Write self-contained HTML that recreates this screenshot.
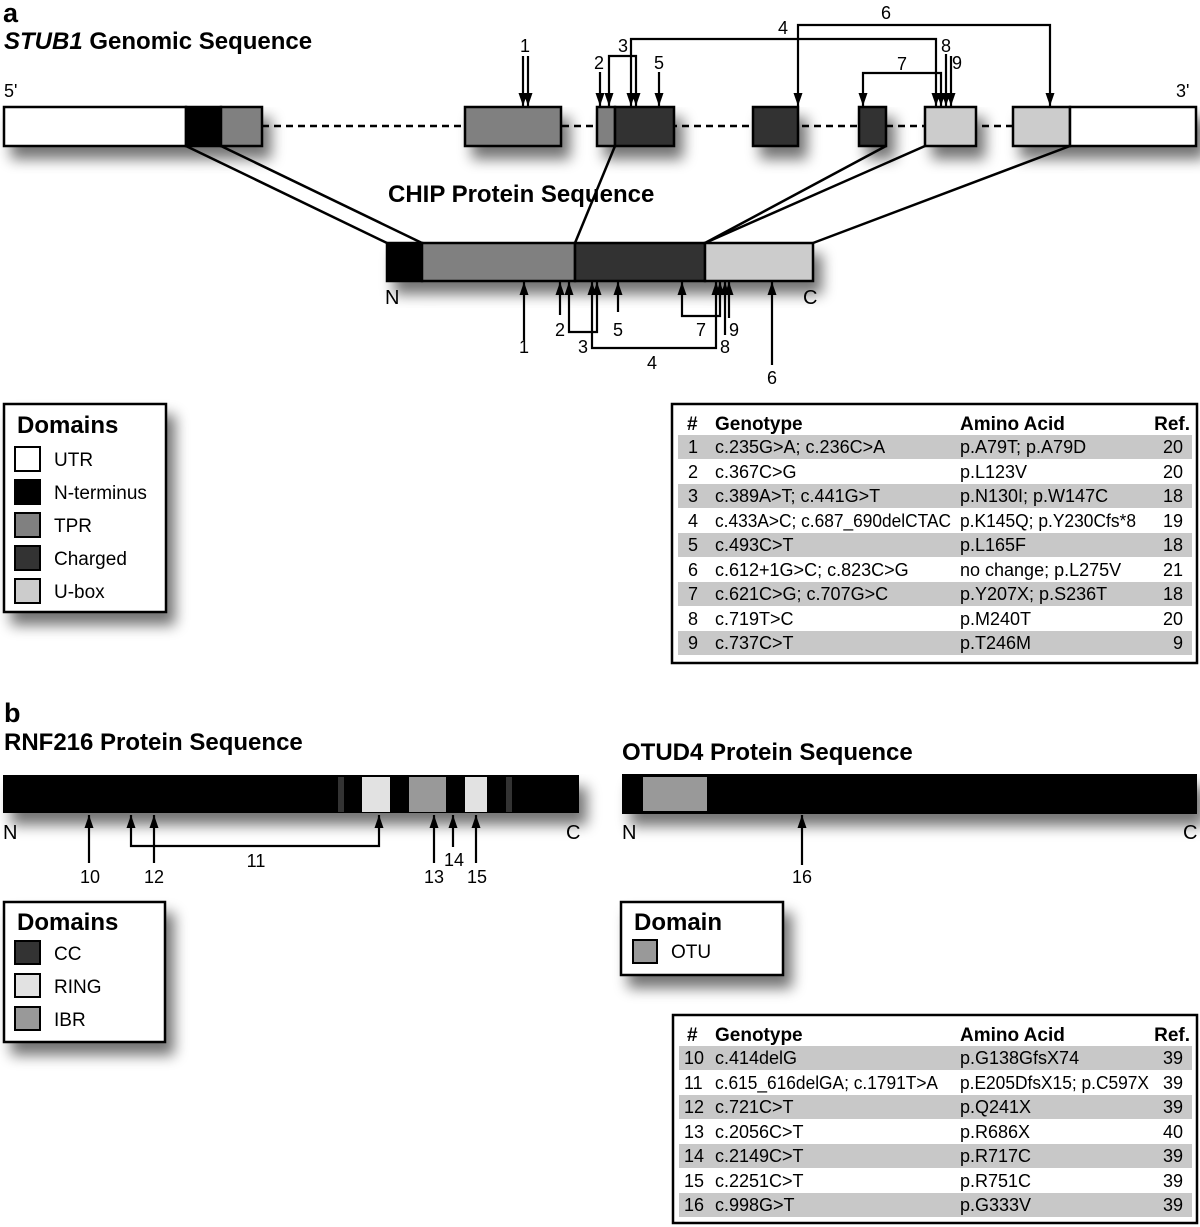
<!DOCTYPE html>
<html><head><meta charset="utf-8"><style>
html,body{margin:0;padding:0;background:#fff;}
svg{display:block;font-family:"Liberation Sans",Arial,sans-serif;}
.t{font-size:18px;}
.b{font-weight:bold;}
</style></head><body>
<svg width="1200" height="1227" viewBox="0 0 1200 1227" xmlns="http://www.w3.org/2000/svg">
<defs>
<filter id="sh" x="-10%" y="-30%" width="130%" height="200%">
<feGaussianBlur in="SourceAlpha" stdDeviation="7"/>
<feOffset dx="8" dy="12" result="o"/>
<feComponentTransfer><feFuncA type="linear" slope="0.55"/></feComponentTransfer>
<feMerge><feMergeNode/><feMergeNode in="SourceGraphic"/></feMerge>
</filter>
<marker id="ah" markerWidth="13" markerHeight="9" refX="13" refY="4.5" orient="auto-start-reverse" markerUnits="userSpaceOnUse" viewBox="0 0 13 9">
<path d="M0,0 L13,4.5 L0,9 z" fill="#000"/>
</marker>
</defs>

<!-- Panel a titles -->
<text x="3" y="22" class="b" font-size="27">a</text>
<text x="4" y="49" class="b" font-size="24"><tspan font-style="italic">STUB1</tspan> Genomic Sequence</text>
<text x="4" y="97" font-size="18">5'</text>
<text x="1176" y="97" font-size="18">3'</text>

<line x1="262" y1="126" x2="1013" y2="126" stroke="#000" stroke-width="2.5" stroke-dasharray="7,5"/>

<g filter="url(#sh)" stroke="#000" stroke-width="2.5">
<rect x="4" y="107" width="182" height="39" fill="#fff"/>
<rect x="186" y="107" width="35" height="39" fill="#000"/>
<rect x="221" y="107" width="41" height="39" fill="#808080"/>
<rect x="465" y="107" width="96" height="39" fill="#808080"/>
<rect x="597" y="107" width="18" height="39" fill="#808080"/>
<rect x="615" y="107" width="59" height="39" fill="#333"/>
<rect x="753" y="107" width="45" height="39" fill="#333"/>
<rect x="859" y="107" width="27" height="39" fill="#333"/>
<rect x="925" y="107" width="51" height="39" fill="#ccc"/>
<rect x="1013" y="107" width="57" height="39" fill="#ccc"/>
<rect x="1070" y="107" width="126" height="39" fill="#fff"/>
</g>

<g stroke="#000" stroke-width="2.5" fill="none">
<line x1="186" y1="146" x2="387" y2="243"/>
<line x1="221" y1="146" x2="422" y2="243"/>
<line x1="615" y1="146" x2="575" y2="243"/>
<line x1="886" y1="146" x2="705" y2="243"/>
<line x1="925" y1="146" x2="705" y2="243"/>
<line x1="1070" y1="146" x2="813" y2="243"/>
</g>
<text x="388" y="202" class="b" font-size="24">CHIP Protein Sequence</text>

<g filter="url(#sh)" stroke="#000" stroke-width="2.5">
<rect x="387" y="243" width="35" height="38" fill="#000"/>
<rect x="422" y="243" width="153" height="38" fill="#808080"/>
<rect x="575" y="243" width="130" height="38" fill="#333"/>
<rect x="705" y="243" width="108" height="38" fill="#ccc"/>
</g>
<text x="385" y="304" font-size="20">N</text>
<text x="803" y="304" font-size="20">C</text>

<g stroke="#000" stroke-width="2.2" fill="none">
<line x1="523" y1="56" x2="523" y2="106" marker-end="url(#ah)"/>
<line x1="528" y1="56" x2="528" y2="106" marker-end="url(#ah)"/>
<line x1="600" y1="72" x2="600" y2="106" marker-end="url(#ah)"/>
<polyline points="609,106 609,56 636,56 636,106" marker-start="url(#ah)" marker-end="url(#ah)"/>
<polyline points="631,106 631,39 936,39 936,106" marker-start="url(#ah)" marker-end="url(#ah)"/>
<line x1="659" y1="72" x2="659" y2="106" marker-end="url(#ah)"/>
<polyline points="798,106 798,25 1050,25 1050,106" marker-start="url(#ah)" marker-end="url(#ah)"/>
<polyline points="863,106 863,73 941,73 941,106" marker-start="url(#ah)" marker-end="url(#ah)"/>
<line x1="946" y1="54" x2="946" y2="106" marker-end="url(#ah)"/>
<line x1="951" y1="56" x2="951" y2="106" marker-end="url(#ah)"/>
</g>
<g class="t" text-anchor="middle">
<text x="525" y="52">1</text>
<text x="599" y="69">2</text>
<text x="623" y="52">3</text>
<text x="783" y="34">4</text>
<text x="659" y="69">5</text>
<text x="886" y="19">6</text>
<text x="902" y="70">7</text>
<text x="946" y="52">8</text>
<text x="957" y="69">9</text>
</g>

<g stroke="#000" stroke-width="2.2" fill="none">
<line x1="524" y1="340" x2="524" y2="282" marker-end="url(#ah)"/>
<line x1="560" y1="315" x2="560" y2="282" marker-end="url(#ah)"/>
<polyline points="569,282 569,332 597,332 597,282" marker-start="url(#ah)" marker-end="url(#ah)"/>
<polyline points="592,282 592,348 716,348 716,282" marker-start="url(#ah)" marker-end="url(#ah)"/>
<line x1="618" y1="312" x2="618" y2="282" marker-end="url(#ah)"/>
<polyline points="682,282 682,316 720,316 720,282" marker-start="url(#ah)" marker-end="url(#ah)"/>
<line x1="725" y1="335" x2="725" y2="282" marker-end="url(#ah)"/>
<line x1="729" y1="318" x2="729" y2="282" marker-end="url(#ah)"/>
<line x1="772" y1="365" x2="772" y2="282" marker-end="url(#ah)"/>
</g>
<g class="t" text-anchor="middle">
<text x="524" y="353">1</text>
<text x="560" y="336">2</text>
<text x="583" y="353">3</text>
<text x="652" y="369">4</text>
<text x="618" y="336">5</text>
<text x="772" y="384">6</text>
<text x="701" y="336">7</text>
<text x="725" y="353">8</text>
<text x="734" y="336">9</text>
</g>

<g filter="url(#sh)"><rect x="4" y="404" width="162" height="208" fill="#fff" stroke="#000" stroke-width="2.5"/></g>
<text x="17" y="433" class="b" font-size="24">Domains</text>
<g stroke="#000" stroke-width="2">
<rect x="15" y="447" width="25" height="24" fill="#fff"/>
<rect x="15" y="480" width="25" height="24" fill="#000"/>
<rect x="15" y="513" width="25" height="24" fill="#808080"/>
<rect x="15" y="546" width="25" height="24" fill="#333"/>
<rect x="15" y="579" width="25" height="24" fill="#ccc"/>
</g>
<g font-size="19">
<text x="54" y="466">UTR</text>
<text x="54" y="499">N-terminus</text>
<text x="54" y="532">TPR</text>
<text x="54" y="565">Charged</text>
<text x="54" y="598">U-box</text>
</g>

<rect x="672" y="404" width="525" height="259" fill="#fff" stroke="#000" stroke-width="2.5"/>
<g fill="#c8c8c8">
<rect x="678" y="435" width="514" height="24"/>
<rect x="678" y="484" width="514" height="24"/>
<rect x="678" y="533" width="514" height="24"/>
<rect x="678" y="582" width="514" height="24"/>
<rect x="678" y="631" width="514" height="24"/>
</g>
<g class="b" font-size="19">
<text x="687" y="430">#</text>
<text x="715" y="430">Genotype</text>
<text x="960" y="430">Amino Acid</text>
<text x="1190" y="430" text-anchor="end">Ref.</text>
</g>
<g font-size="18">
<text x="693" y="453" text-anchor="middle">1</text><text x="715" y="453">c.235G&gt;A; c.236C&gt;A</text><text x="960" y="453">p.A79T; p.A79D</text><text x="1183" y="453" text-anchor="end">20</text>
<text x="693" y="478" text-anchor="middle">2</text><text x="715" y="478">c.367C&gt;G</text><text x="960" y="478">p.L123V</text><text x="1183" y="478" text-anchor="end">20</text>
<text x="693" y="502" text-anchor="middle">3</text><text x="715" y="502">c.389A&gt;T; c.441G&gt;T</text><text x="960" y="502">p.N130I; p.W147C</text><text x="1183" y="502" text-anchor="end">18</text>
<text x="693" y="527" text-anchor="middle">4</text><text x="715" y="527" textLength="236" lengthAdjust="spacingAndGlyphs">c.433A&gt;C; c.687_690delCTAC</text><text x="960" y="527" textLength="176" lengthAdjust="spacingAndGlyphs">p.K145Q; p.Y230Cfs*8</text><text x="1183" y="527" text-anchor="end">19</text>
<text x="693" y="551" text-anchor="middle">5</text><text x="715" y="551">c.493C&gt;T</text><text x="960" y="551">p.L165F</text><text x="1183" y="551" text-anchor="end">18</text>
<text x="693" y="576" text-anchor="middle">6</text><text x="715" y="576">c.612+1G&gt;C; c.823C&gt;G</text><text x="960" y="576">no change; p.L275V</text><text x="1183" y="576" text-anchor="end">21</text>
<text x="693" y="600" text-anchor="middle">7</text><text x="715" y="600">c.621C&gt;G; c.707G&gt;C</text><text x="960" y="600">p.Y207X; p.S236T</text><text x="1183" y="600" text-anchor="end">18</text>
<text x="693" y="625" text-anchor="middle">8</text><text x="715" y="625">c.719T&gt;C</text><text x="960" y="625">p.M240T</text><text x="1183" y="625" text-anchor="end">20</text>
<text x="693" y="649" text-anchor="middle">9</text><text x="715" y="649">c.737C&gt;T</text><text x="960" y="649">p.T246M</text><text x="1183" y="649" text-anchor="end">9</text>
</g>

<text x="4" y="722" class="b" font-size="27">b</text>
<text x="4" y="750" class="b" font-size="24">RNF216 Protein Sequence</text>
<text x="622" y="760" class="b" font-size="24">OTUD4 Protein Sequence</text>

<g filter="url(#sh)">
<rect x="3" y="775" width="576" height="38" fill="#000"/>
<rect x="622" y="774" width="575" height="40" fill="#000"/>
</g>
<rect x="338" y="777" width="6" height="35" fill="#333"/>
<rect x="362" y="777" width="28" height="35" fill="#e2e2e2"/>
<rect x="409" y="777" width="37" height="35" fill="#999"/>
<rect x="465" y="777" width="22" height="35" fill="#e2e2e2"/>
<rect x="506" y="777" width="6" height="35" fill="#333"/>
<rect x="643" y="777" width="64" height="34" fill="#999"/>

<text x="3" y="839" font-size="20">N</text>
<text x="566" y="839" font-size="20">C</text>
<text x="622" y="839" font-size="20">N</text>
<text x="1183" y="839" font-size="20">C</text>

<g stroke="#000" stroke-width="2.2" fill="none">
<line x1="89" y1="863" x2="89" y2="815" marker-end="url(#ah)"/>
<polyline points="131,815 131,846 379,846 379,815" marker-start="url(#ah)" marker-end="url(#ah)"/>
<line x1="154" y1="863" x2="154" y2="815" marker-end="url(#ah)"/>
<line x1="434" y1="863" x2="434" y2="815" marker-end="url(#ah)"/>
<line x1="453" y1="847" x2="453" y2="815" marker-end="url(#ah)"/>
<line x1="476" y1="863" x2="476" y2="815" marker-end="url(#ah)"/>
<line x1="802" y1="865" x2="802" y2="815" marker-end="url(#ah)"/>
</g>
<g class="t" text-anchor="middle">
<text x="90" y="883">10</text>
<text x="256" y="867">11</text>
<text x="154" y="883">12</text>
<text x="434" y="883">13</text>
<text x="454" y="866">14</text>
<text x="477" y="883">15</text>
<text x="802" y="883">16</text>
</g>

<g filter="url(#sh)"><rect x="4" y="902" width="161" height="140" fill="#fff" stroke="#000" stroke-width="2.5"/></g>
<text x="17" y="930" class="b" font-size="24">Domains</text>
<g stroke="#000" stroke-width="2">
<rect x="15" y="941" width="25" height="23" fill="#333"/>
<rect x="15" y="974" width="25" height="23" fill="#e2e2e2"/>
<rect x="15" y="1007" width="25" height="23" fill="#999"/>
</g>
<g font-size="19">
<text x="54" y="960">CC</text>
<text x="54" y="993">RING</text>
<text x="54" y="1026">IBR</text>
</g>

<g filter="url(#sh)"><rect x="621" y="902" width="162" height="73" fill="#fff" stroke="#000" stroke-width="2.5"/></g>
<text x="634" y="930" class="b" font-size="24">Domain</text>
<rect x="633" y="940" width="24" height="23" fill="#999" stroke="#000" stroke-width="2"/>
<text x="671" y="958" font-size="19">OTU</text>

<rect x="673" y="1015" width="524" height="208" fill="#fff" stroke="#000" stroke-width="2.5"/>
<g fill="#c8c8c8">
<rect x="679" y="1046" width="513" height="24"/>
<rect x="679" y="1095" width="513" height="24"/>
<rect x="679" y="1144" width="513" height="24"/>
<rect x="679" y="1193" width="513" height="24"/>
</g>
<g class="b" font-size="19">
<text x="687" y="1041">#</text>
<text x="715" y="1041">Genotype</text>
<text x="960" y="1041">Amino Acid</text>
<text x="1190" y="1041" text-anchor="end">Ref.</text>
</g>
<g font-size="18">
<text x="684" y="1064">10</text><text x="715" y="1064">c.414delG</text><text x="960" y="1064">p.G138GfsX74</text><text x="1183" y="1064" text-anchor="end">39</text>
<text x="684" y="1089">11</text><text x="715" y="1089" textLength="223" lengthAdjust="spacingAndGlyphs">c.615_616delGA; c.1791T&gt;A</text><text x="960" y="1089" textLength="189" lengthAdjust="spacingAndGlyphs">p.E205DfsX15; p.C597X</text><text x="1183" y="1089" text-anchor="end">39</text>
<text x="684" y="1113">12</text><text x="715" y="1113">c.721C&gt;T</text><text x="960" y="1113">p.Q241X</text><text x="1183" y="1113" text-anchor="end">39</text>
<text x="684" y="1138">13</text><text x="715" y="1138">c.2056C&gt;T</text><text x="960" y="1138">p.R686X</text><text x="1183" y="1138" text-anchor="end">40</text>
<text x="684" y="1162">14</text><text x="715" y="1162">c.2149C&gt;T</text><text x="960" y="1162">p.R717C</text><text x="1183" y="1162" text-anchor="end">39</text>
<text x="684" y="1187">15</text><text x="715" y="1187">c.2251C&gt;T</text><text x="960" y="1187">p.R751C</text><text x="1183" y="1187" text-anchor="end">39</text>
<text x="684" y="1211">16</text><text x="715" y="1211">c.998G&gt;T</text><text x="960" y="1211">p.G333V</text><text x="1183" y="1211" text-anchor="end">39</text>
</g>
</svg>
</body></html>
